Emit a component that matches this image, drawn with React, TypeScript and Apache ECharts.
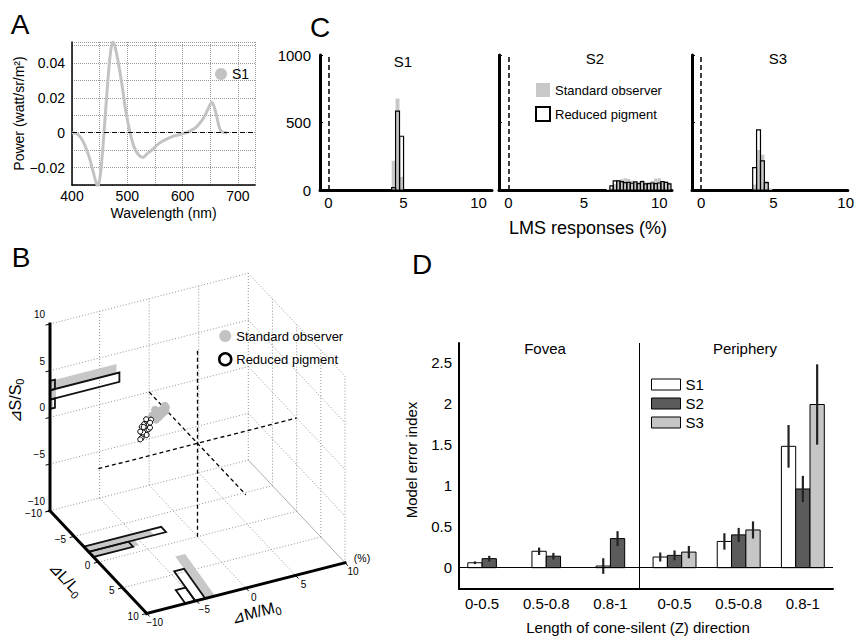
import React, { useEffect, useRef } from 'react';
import * as echarts from 'echarts';

const FONT = '"Liberation Sans", Arial, Helvetica, sans-serif';

/* ---------------- Panel A: spectral power of S1 ---------------- */
const wavelengths = [400, 410, 420, 430, 438, 443, 447, 452, 457, 462, 467, 471, 474, 478, 485, 492, 497, 505, 512, 520, 528, 536, 546, 558, 570, 585, 600, 612, 624, 632, 639, 646, 653, 658, 663, 667, 672, 680];
const powerS1 = [0, -0.0008, -0.005, -0.013, -0.022, -0.028, -0.031, -0.022, -0.004, 0.018, 0.038, 0.049, 0.052, 0.049, 0.038, 0.024, 0.013, 0, -0.008, -0.0125, -0.0142, -0.012, -0.0095, -0.006, -0.0038, -0.0018, -0.0006, 0.0008, 0.003, 0.0058, 0.009, 0.0135, 0.0175, 0.014, 0.0075, 0.0025, 0.0003, 0];

/* ---------------- Panel C: LMS response histograms ---------------- */
const cTitles = ['S1', 'S2', 'S3'];
const hS1Centers = [4.35, 4.61, 4.88];
const hS1Std = [216, 677, 97];
const hS1Red = [17, 584, 398];
const hS2Centers = [6.62, 6.84, 7.06, 7.29, 7.51, 7.74, 7.96, 8.19, 8.41, 8.64, 8.86, 9.09, 9.31, 9.54, 9.76, 9.99, 10.21, 10.44, 10.66];
const hS2Std = [8, 14, 45, 72, 80, 87, 82, 70, 62, 58, 72, 55, 60, 68, 84, 87, 60, 62, 55];
const hS2Red = [0, 30, 67, 67, 62, 55, 57, 50, 60, 47, 62, 45, 47, 52, 47, 52, 62, 57, 45];
const hS3Centers = [3.7, 3.97, 4.24, 4.51, 4.78];
const hS3Std = [40, 296, 261, 67, 12];
const hS3Red = [166, 445, 216, 55, 0];
const cBinWidths = [0.26, 0.225, 0.27];

/* ---------------- Panel B: 3-D LMS scatter ---------------- */
const bTicks = [-10, -5, 0, 5, 10];
const bInnerLines = [-5, 0, 5];
// [ΔL/L0, ΔM/M0, ΔS/S0] in %
const bStdPoints = [
  [-1.2, -3.4, 3.4], [-1.2, -3.9, 3.0], [-1.2, -2.6, 3.9], [-1.3, -3.6, 3.2], [-1.1, -3.2, 3.5],
  [-1.0, -3.0, 3.6], [-1.4, -3.8, 3.3], [-1.3, -3.3, 3.6], [-1.1, -3.5, 3.1], [-1.2, -2.9, 3.7],
  [-1.0, -2.8, 3.8], [-1.3, -3.7, 2.9], [-1.4, -3.1, 3.5], [-1.1, -2.7, 3.6], [-1.2, -3.0, 3.3],
  [-1.3, -3.5, 3.7], [-1.0, -3.4, 3.2], [-1.2, -3.8, 3.1], [-1.1, -3.1, 3.8], [-1.3, -2.8, 3.4],
  [-1.4, -3.6, 3.8], [-1.0, -3.7, 3.0], [-1.2, -2.7, 4.1], [-1.3, -4.0, 3.2],
];
const bRedPoints = [
  [-1.5, -4.5, 2.0], [-1.6, -4.6, 1.8], [-1.4, -4.4, 2.2], [-1.3, -4.3, 2.5], [-1.7, -4.8, 1.5],
  [-1.5, -4.9, 1.1], [-1.6, -5.0, 0.9], [-1.4, -4.2, 2.8], [-1.2, -4.1, 3.0], [-1.8, -4.5, 2.3],
  [-1.2, -4.6, 1.9], [-1.6, -4.3, 2.6], [-1.3, -4.7, 1.6], [-1.9, -4.7, 2.0], [-1.1, -4.4, 2.1],
  [-1.5, -4.2, 2.4], [-1.7, -4.6, 1.3], [-1.4, -4.8, 1.7], [-1.0, -4.3, 2.3], [-1.6, -4.4, 2.9],
  [-1.3, -4.5, 1.4], [-1.8, -4.9, 1.6], [-1.2, -4.2, 2.7], [-1.5, -4.7, 2.2],
];
// marginal histograms: [binLow, binHigh, barLength]
const bSHistStd = [[2.9, 3.9, 6.7], [1.9, 2.9, 0.6], [0.9, 1.9, 0.3]];
const bSHistRed = [[2.9, 3.9, 0.5], [1.9, 2.9, 7.0], [0.9, 1.9, 0.5]];
const bLHistStd = [[-3.0, -2.0, 6.6], [-2.0, -1.0, 4.6]];
const bLHistRed = [[-3.0, -2.0, 7.8], [-2.0, -1.0, 4.0]];
const bMHistStd = [[-4.1, -3.1, 7.8]];
const bMHistRed = [[-5.1, -4.1, 5.5], [-6.1, -5.1, 2.5]];

/* ---------------- Panel D: model error index ---------------- */
const dGroups = ['0-0.5', '0.5-0.8', '0.8-1', '0-0.5', '0.5-0.8', '0.8-1'];
const dS1 = [0.06, 0.2, 0.02, 0.13, 0.32, 1.48];
const dS1Err = [0.017, 0.045, 0.095, 0.055, 0.1, 0.26];
const dS2 = [0.11, 0.14, 0.355, 0.15, 0.4, 0.96];
const dS2Err = [0.035, 0.04, 0.09, 0.06, 0.085, 0.16];
const dS3 = [null, null, null, 0.19, 0.46, 1.99];
const dS3Err = [null, null, null, 0.075, 0.105, 0.49];
const dNames = ['S1', 'S2', 'S3'];
const dColors = ['#ffffff', '#5b5b5b', '#c6c6c6'];

/* ---------------- helpers ---------------- */
const minus = (v: number) => (v < 0 ? '\u2212' + Math.abs(v) : String(v));

function histRender(bw: number, fill: string, stroke: string | null) {
  return (_p: any, api: any) => {
    const c = api.value(0);
    const h = api.value(1);
    if (!(h > 0)) return null;
    const a = api.coord([c - bw / 2, h]);
    const b = api.coord([c + bw / 2, 0]);
    return {
      type: 'rect',
      shape: { x: a[0], y: a[1], width: b[0] - a[0], height: b[1] - a[1] },
      style: stroke ? { fill: 'none', stroke, lineWidth: 1.2 } : { fill, stroke: 'none' },
    };
  };
}

// oblique projection of (L, M, S) into the 2-D axes of the B grid
const projB = (L: number, M: number, S: number): number[] => [
  (L + 10) * 4.835 + (M + 10) * 9.915,
  -(L + 10) * 5.135 + (M + 10) * 2.535 + (S + 10) * 9.335,
];
const seg = (a: number[], b: number[], style: any) => ({
  type: 'line',
  shape: { x1: a[0], y1: a[1], x2: b[0], y2: b[1] },
  style,
});

function renderBFrame(_p: any, api: any) {
  const P = (l: number, m: number, s: number) => api.coord(projB(l, m, s));
  const dot = { stroke: '#888', lineWidth: 0.9, lineDash: [1, 2] };
  const wall = [...bInnerLines, 10];
  const kids: any[] = [];
  wall.forEach((m) => kids.push(seg(P(-10, m, -10), P(-10, m, 10), dot)));
  [-10, ...wall].forEach((s) => kids.push(seg(P(-10, -10, s), P(-10, 10, s), dot)));
  wall.forEach((l) => kids.push(seg(P(l, 10, -10), P(l, 10, 10), dot)));
  wall.forEach((s) => kids.push(seg(P(-10, 10, s), P(10, 10, s), dot)));
  bInnerLines.forEach((l) => kids.push(seg(P(l, -10, -10), P(l, 10, -10), dot)));
  bInnerLines.forEach((m) => kids.push(seg(P(-10, m, -10), P(10, m, -10), dot)));
  kids.push(seg(P(-10, 10, -10), P(10, 10, -10), { stroke: '#999', lineWidth: 0.8 }));
  return { type: 'group', children: kids };
}

function renderBDashed(_p: any, api: any) {
  const P = (l: number, m: number, s: number) => api.coord(projB(l, m, s));
  const st = { stroke: '#000', lineWidth: 1.3, lineDash: [4, 3] };
  return {
    type: 'group',
    children: [
      seg(P(0, 0, -10), P(0, 0, 10), st),
      seg(P(-10, 0, 0), P(10, 0, 0), st),
      seg(P(0, -10, 0), P(0, 10, 0), st),
    ],
  };
}

const M_SKEW = 0.1;
function bHistRender(fill: string, stroke: string | null) {
  return (_p: any, api: any) => {
    const P = (l: number, m: number, s: number) => api.coord(projB(l, m, s));
    const w = api.value(0), lo = api.value(1), hi = api.value(2), len = api.value(3);
    let pts: number[][];
    if (w === 0) pts = [P(-10, -10, lo), P(-10, -10 + len, lo), P(-10, -10 + len, hi), P(-10, -10, hi)];
    else if (w === 1) pts = [P(lo, -10, -10), P(lo, -10 + len, -10), P(hi, -10 + len, -10), P(hi, -10, -10)];
    else pts = [P(10, lo, -10), P(10 - len, lo + M_SKEW * len, -10), P(10 - len, hi + M_SKEW * len, -10), P(10, hi, -10)];
    return {
      type: 'polygon',
      shape: { points: pts },
      style: stroke ? { fill: 'none', stroke, lineWidth: 1.8 } : { fill, stroke: 'none' },
    };
  };
}
const bHistData = (s: number[][], l: number[][], m: number[][]) => [
  ...s.map((r) => [0, ...r]),
  ...l.map((r) => [1, ...r]),
  ...m.map((r) => [2, ...r]),
];

function renderBAxes(_p: any, api: any) {
  const P = (l: number, m: number, s: number) => api.coord(projB(l, m, s));
  const thick = { stroke: '#000', lineWidth: 3, lineCap: 'square' };
  const thin = { stroke: '#000', lineWidth: 1 };
  const kids: any[] = [];
  const lo = bTicks[0], hi = bTicks[bTicks.length - 1];
  kids.push(seg(P(lo, lo, lo), P(lo, lo, hi), thick));
  kids.push(seg(P(lo, lo, lo), P(hi, lo, lo), thick));
  kids.push(seg(P(hi, lo, lo), P(hi, hi, lo), thick));
  const txt = (p: number[], s: string, align: string) => ({
    type: 'text',
    x: p[0],
    y: p[1],
    style: { text: s, fontSize: 10, fontFamily: FONT, fill: '#000', align, verticalAlign: 'middle' },
  });
  bTicks.forEach((v) => {
    const lab = minus(v);
    const s0 = P(lo, lo, v);
    kids.push(seg(s0, P(lo, lo - 0.45, v), thin));
    kids.push(txt([s0[0] - 5, s0[1] - 9.5], lab, 'right'));
    const l0 = P(v, lo, lo);
    kids.push(seg(l0, P(v, lo - 0.45, lo), thin));
    kids.push(txt([l0[0] - 8, l0[1] + 3], lab, 'right'));
    const m0 = P(hi, v, lo);
    kids.push(seg(m0, P(hi + 0.6, v, lo), thin));
    kids.push(txt([m0[0] + 8, m0[1] + 9], lab, 'center'));
  });
  const pc = P(hi, hi, lo);
  kids.push({
    type: 'text',
    x: pc[0] + 17,
    y: pc[1] - 5,
    style: { text: '(%)', fontSize: 10.5, fontFamily: FONT, fill: '#000', align: 'center', verticalAlign: 'middle' },
  });
  return { type: 'group', children: kids };
}

const D_BAR_W = 0.223;
function dBarRender(fill: string) {
  return (_p: any, api: any) => {
    const x = api.value(0), v = api.value(1), e = api.value(2), k = api.value(3), n = api.value(4);
    const cx = x + (k - (n - 1) / 2) * D_BAR_W;
    const a = api.coord([cx - D_BAR_W / 2, v]);
    const b = api.coord([cx + D_BAR_W / 2, 0]);
    const t = api.coord([cx, v + e]);
    const u = api.coord([cx, v - e]);
    return {
      type: 'group',
      children: [
        { type: 'rect', shape: { x: a[0], y: a[1], width: b[0] - a[0], height: b[1] - a[1] }, style: { fill, stroke: '#000', lineWidth: 1 } },
        { type: 'line', shape: { x1: t[0], y1: t[1], x2: u[0], y2: u[1] }, style: { stroke: '#222', lineWidth: 2.2 } },
      ],
    };
  };
}
function dData(k: number) {
  const vals = [dS1, dS2, dS3];
  const errs = [dS1Err, dS2Err, dS3Err];
  const out: any[] = [];
  dGroups.forEach((_g, i) => {
    const present = vals.map((a) => a[i] != null);
    const n = present.filter(Boolean).length;
    const slot = present.slice(0, k).filter(Boolean).length;
    if (vals[k][i] != null) out.push([i + 1, vals[k][i], errs[k][i], slot, n]);
  });
  return out;
}

function buildOption(): any {
  const black = '#000';
  const cLayout = [
    { left: 320, width: 172, min: -0.553, max: 10.9 },
    { left: 499, width: 173, min: -0.616, max: 10.84 },
    { left: 692, width: 165, min: -0.634, max: 10.15 },
  ];
  const cPanels = [
    { centers: hS1Centers, std: hS1Std, red: hS1Red },
    { centers: hS2Centers, std: hS2Std, red: hS2Red },
    { centers: hS3Centers, std: hS3Std, red: hS3Red },
  ];

  const grid: any[] = [
    { left: 72, top: 42, width: 183, height: 143 },
    ...cLayout.map((c) => ({ left: c.left, top: 55, width: c.width, height: 135 })),
    { left: 50, top: 273.3, width: 295, height: 340.1 },
    { left: 459, top: 343, width: 374, height: 246 },
  ];

  const xAxis: any[] = [
    {
      gridIndex: 0, type: 'value', min: 400, max: 731, interval: 50,
      name: 'Wavelength (nm)', nameLocation: 'middle', nameGap: 21,
      nameTextStyle: { fontSize: 14, color: black, fontFamily: FONT },
      axisLine: { onZero: false, lineStyle: { color: black, width: 1.5 } },
      axisTick: { show: false },
      splitLine: { show: true, lineStyle: { color: '#999', type: 'dotted', width: 1 } },
      axisLabel: { color: black, fontSize: 14, margin: 4, formatter: (v: number) => (v % 100 === 0 ? String(v) : '') },
    },
    ...cLayout.map((c, i) => ({
      gridIndex: i + 1, type: 'value', min: c.min, max: c.max, minInterval: 5, maxInterval: 5,
      axisLine: { onZero: false, lineStyle: { color: black, width: 3 } },
      axisTick: { show: false },
      splitLine: { show: false },
      axisLabel: {
        color: black, fontSize: 15, margin: 5,
        formatter: (v: number) => {
          const r = Math.round(v);
          return Math.abs(v - r) < 1e-6 && r % 5 === 0 ? String(r) : '';
        },
      },
    })),
    { gridIndex: 4, type: 'value', min: 0, max: 295, show: false },
    {
      gridIndex: 5, type: 'value', min: 0.64, max: 6.47, minInterval: 1, maxInterval: 1,
      name: 'Length of cone-silent (Z) direction', nameLocation: 'middle', nameGap: 31,
      nameTextStyle: { fontSize: 15, color: black, fontFamily: FONT, padding: [0, 16, 0, 0] },
      axisLine: { onZero: false, lineStyle: { color: black, width: 2 } },
      axisTick: { show: false },
      splitLine: { show: false },
      axisLabel: {
        color: black, fontSize: 15, margin: 7,
        formatter: (v: number) => {
          const r = Math.round(v);
          return Math.abs(v - r) < 1e-6 && r >= 1 && r <= dGroups.length ? dGroups[r - 1] : '';
        },
      },
    },
  ];

  const yAxis: any[] = [
    {
      gridIndex: 0, type: 'value', min: -0.03, max: 0.052, interval: 0.01,
      name: 'Power (watt/sr/m\u00B2)', nameLocation: 'middle', nameGap: 43,
      nameTextStyle: { fontSize: 14, color: black, fontFamily: FONT },
      axisLine: { show: true, onZero: false, lineStyle: { color: black, width: 1.5 } },
      axisTick: { show: false },
      splitLine: { show: true, lineStyle: { color: '#999', type: 'dotted', width: 1 } },
      axisLabel: {
        color: black, fontSize: 14, margin: 7,
        formatter: (v: number) => {
          const r = Math.round(v * 100);
          if (Math.abs(v * 100 - r) > 1e-6 || r % 2 !== 0) return '';
          if (r === 0) return '0';
          return (r < 0 ? '\u2212' : '') + '0.0' + Math.abs(r);
        },
      },
    },
    ...cLayout.map((_c, i) => ({
      gridIndex: i + 1, type: 'value', min: 0, max: 1000, interval: 500,
      axisLine: { show: true, onZero: false, lineStyle: { color: black, width: 3 } },
      axisTick: { show: true, inside: true, length: 3, lineStyle: { color: black, width: 1 } },
      splitLine: { show: false },
      axisLabel: { show: i === 0, color: black, fontSize: 15, margin: 9, formatter: (v: number) => String(v) },
    })),
    { gridIndex: 4, type: 'value', min: -102.7, max: 237.4, show: false },
    {
      gridIndex: 5, type: 'value', min: -0.26, max: 2.74, minInterval: 0.5, maxInterval: 0.5,
      name: 'Model error index', nameLocation: 'middle', nameGap: 40,
      nameTextStyle: { fontSize: 15, color: black, fontFamily: FONT, padding: [0, 0, 0, 12] },
      axisLine: { show: true, onZero: false, lineStyle: { color: black, width: 2 } },
      axisTick: { show: false },
      splitLine: { show: false },
      axisLabel: {
        color: black, fontSize: 15, margin: 7,
        formatter: (v: number) => {
          const r = Math.round(v * 2);
          return Math.abs(v * 2 - r) < 1e-6 ? String(r / 2) : '';
        },
      },
    },
  ];

  const series: any[] = [];
  // A
  series.push({
    type: 'line', name: 'S1', xAxisIndex: 0, yAxisIndex: 0, silent: true,
    data: wavelengths.map((w, i) => [w, powerS1[i]]),
    smooth: 0.3, symbol: 'none',
    lineStyle: { color: '#c3c3c3', width: 3 }, itemStyle: { color: '#c3c3c3' },
    markLine: {
      silent: true, symbol: ['none', 'none'], label: { show: false },
      lineStyle: { color: black, type: [5, 3], width: 1 },
      data: [{ yAxis: 0 }],
    },
  });
  // C
  cPanels.forEach((p, i) => {
    series.push({
      type: 'custom', name: 'Standard observer', xAxisIndex: i + 1, yAxisIndex: i + 1, silent: true,
      data: p.centers.map((c, j) => [c, p.std[j]]),
      renderItem: histRender(cBinWidths[i], '#c8c8c8', null),
      itemStyle: { color: '#c8c8c8' },
    });
    series.push({
      type: 'custom', name: 'Reduced pigment', xAxisIndex: i + 1, yAxisIndex: i + 1, silent: true,
      data: p.centers.map((c, j) => [c, p.red[j]]),
      renderItem: histRender(cBinWidths[i], 'none', black),
      itemStyle: { color: '#fff', borderColor: black },
    });
    series.push({
      type: 'line', xAxisIndex: i + 1, yAxisIndex: i + 1, silent: true,
      data: [[0, 0]], symbol: 'none', lineStyle: { opacity: 0 },
      markLine: {
        silent: true, symbol: ['none', 'none'], label: { show: false },
        lineStyle: { color: black, type: [5, 3], width: 1.5 },
        data: [{ xAxis: 0 }],
      },
    });
  });
  // B
  series.push({ type: 'custom', xAxisIndex: 4, yAxisIndex: 4, silent: true, data: [[0, 0]], renderItem: renderBFrame });
  series.push({
    type: 'custom', name: 'Standard observer', xAxisIndex: 4, yAxisIndex: 4, silent: true,
    data: bHistData(bSHistStd, bLHistStd, bMHistStd), renderItem: bHistRender('#c8c8c8', null),
  });
  series.push({
    type: 'custom', name: 'Reduced pigment', xAxisIndex: 4, yAxisIndex: 4, silent: true,
    data: bHistData(bSHistRed, bLHistRed, bMHistRed), renderItem: bHistRender('none', '#111'),
  });
  series.push({ type: 'custom', xAxisIndex: 4, yAxisIndex: 4, silent: true, data: [[0, 0]], renderItem: renderBDashed });
  series.push({
    type: 'scatter', name: 'Standard observer', xAxisIndex: 4, yAxisIndex: 4, silent: true,
    data: bStdPoints.map((p) => projB(p[0], p[1], p[2])),
    symbolSize: 8, itemStyle: { color: '#bdbdbd', opacity: 1 },
  });
  series.push({
    type: 'scatter', name: 'Reduced pigment', xAxisIndex: 4, yAxisIndex: 4, silent: true,
    data: bRedPoints.map((p) => projB(p[0], p[1], p[2])),
    symbolSize: 5, itemStyle: { color: '#fff', borderColor: black, borderWidth: 1, opacity: 1 },
  });
  series.push({ type: 'custom', xAxisIndex: 4, yAxisIndex: 4, silent: true, data: [[0, 0]], renderItem: renderBAxes });
  // D
  dNames.forEach((nm, k) => {
    series.push({
      type: 'custom', name: nm, xAxisIndex: 5, yAxisIndex: 5, silent: true,
      data: dData(k), renderItem: dBarRender(dColors[k]),
      itemStyle: { color: dColors[k], borderColor: black },
    });
  });
  series.push({
    type: 'line', xAxisIndex: 5, yAxisIndex: 5, silent: true,
    data: [[1, 0]], symbol: 'none', lineStyle: { opacity: 0 },
    markLine: {
      silent: true, symbol: ['none', 'none'], label: { show: false },
      lineStyle: { color: black, type: 'solid', width: 1 },
      data: [{ yAxis: 0 }, { xAxis: 3.45 }],
    },
  });

  const legendText = (size: number, lh: number) => ({ color: black, fontSize: size, lineHeight: lh, fontFamily: FONT });
  const legend: any[] = [
    {
      left: 215, top: 67, padding: 0, selectedMode: false, icon: 'circle', itemWidth: 12, itemHeight: 12,
      textStyle: legendText(14, 14),
      data: [{ name: 'S1', itemStyle: { color: '#c3c3c3', borderWidth: 0 } }],
    },
    {
      left: 535, top: 83, padding: 0, selectedMode: false, orient: 'vertical', icon: 'rect',
      itemWidth: 14, itemHeight: 14, itemGap: 9, textStyle: legendText(13, 14),
      data: [
        { name: 'Standard observer', itemStyle: { color: '#c8c8c8', borderWidth: 0 } },
        { name: 'Reduced pigment', itemStyle: { color: '#fff', borderColor: black, borderWidth: 2 } },
      ],
    },
    {
      left: 218, top: 329, padding: 0, selectedMode: false, orient: 'vertical', icon: 'circle',
      itemWidth: 12, itemHeight: 12, itemGap: 9, textStyle: legendText(13, 14),
      data: [
        { name: 'Standard observer', itemStyle: { color: '#c3c3c3', borderWidth: 0 } },
        { name: 'Reduced pigment', itemStyle: { color: '#fff', borderColor: black, borderWidth: 2.5 } },
      ],
    },
    {
      left: 651, top: 377, padding: 0, selectedMode: false, orient: 'vertical', icon: 'rect',
      itemWidth: 29, itemHeight: 11, itemGap: 4, textStyle: legendText(15, 15),
      data: dNames.map((nm, k) => ({ name: nm, itemStyle: { color: dColors[k], borderColor: black, borderWidth: 1 } })),
    },
  ];

  const T = (x: number, y: number, text: string, fontSize: number, extra: any = {}) => ({
    type: 'text', x, y, silent: true,
    style: { text, fontSize, fontFamily: FONT, fill: black, align: 'center', verticalAlign: 'middle', ...extra },
  });
  const sub = (main: string, x: number, y: number, rotation: number) => ({
    type: 'text', x, y, rotation, silent: true,
    style: {
      text: '{a|' + main + '}{b|0}',
      align: 'center', verticalAlign: 'middle',
      rich: {
        a: { fontSize: 16, fontFamily: FONT, fill: black, lineHeight: 20 },
        b: { fontSize: 11, fontFamily: FONT, fill: black, lineHeight: 20, verticalAlign: 'bottom' },
      },
    },
  });
  const graphic: any[] = [
    T(20, 24, 'A', 28),
    T(320, 27, 'C', 28),
    T(21, 257, 'B', 28),
    T(422, 264, 'D', 28),
    T(403, 61, cTitles[0], 15),
    T(595, 58, cTitles[1], 15),
    T(778, 58, cTitles[2], 15),
    T(588, 228, 'LMS responses (%)', 18),
    T(545, 348, 'Fovea', 15),
    T(745, 348, 'Periphery', 15),
    sub('\u22BFS/S', 15, 401, Math.PI / 2),
    sub('\u22BFL/L', 66, 579, -0.815),
    sub('\u22BFM/M', 256, 612, 0.25),
  ];

  return {
    animation: false,
    backgroundColor: '#fff',
    textStyle: { fontFamily: FONT, color: black },
    grid, xAxis, yAxis, series, legend, graphic,
  };
}

export default function App() {
  const ref = useRef<HTMLDivElement>(null);
  useEffect(() => {
    if (!ref.current) return;
    const chart = echarts.init(ref.current, null, { renderer: 'svg' });
    chart.setOption(buildOption());
    return () => chart.dispose();
  }, []);
  return (
    <div
      ref={ref}
      style={{ position: 'fixed', left: 0, top: 0, width: 857, height: 637, background: '#fff' }}
    />
  );
}
